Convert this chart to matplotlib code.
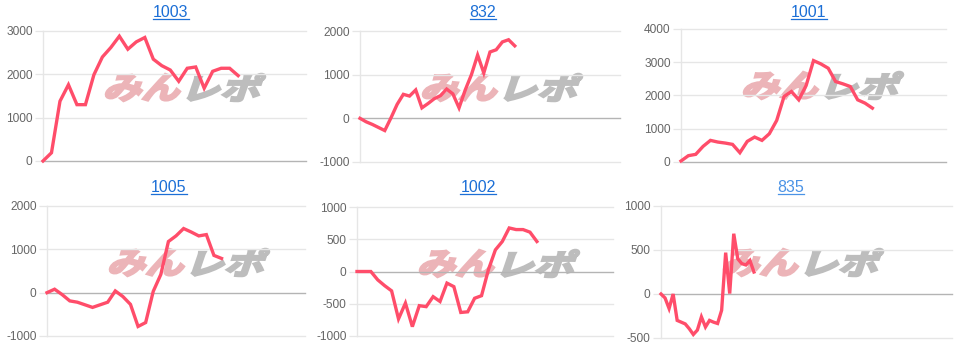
import matplotlib
matplotlib.use('Agg')
import matplotlib.pyplot as plt
from matplotlib.textpath import TextPath
from matplotlib.patches import PathPatch
from matplotlib.font_manager import FontProperties
from matplotlib.transforms import Affine2D, IdentityTransform
from matplotlib.lines import Line2D

# ---------------- data ----------------
titles = ['1003', '832', '1001', '1005', '1002', '835']

v1003 = [0, 190, 1380, 1760, 1300, 1300, 1990, 2400, 2620, 2880, 2580, 2750,
         2850, 2350, 2200, 2100, 1840, 2140, 2170, 1680, 2070, 2140, 2140, 1970]
v832 = [0, -80, -140, -210, -280, 10, 320, 550, 510, 650, 240, 340, 450, 520,
        670, 560, 240, 650, 1000, 1450, 1040, 1520, 1570, 1750, 1800, 1660]
v1001 = [30, 190, 230, 470, 650, 600, 570, 530, 280, 620, 750, 650, 850, 1250,
         1970, 2120, 1870, 2300, 3050, 2950, 2820, 2420, 2350, 2270, 1870, 1770, 1620]
v1005 = [0, 80, -45, -190, -220, -280, -340, -280, -220, 40, -90, -270, -780,
         -690, 30, 420, 1180, 1310, 1480, 1400, 1310, 1340, 860, 790]
v1002 = [0, 0, 0, -130, -220, -300, -735, -490, -855, -530, -545, -390, -465,
         -180, -235, -635, -625, -415, -375, 30, 335, 465, 675, 650, 650, 610, 465]
v835 = [0, -45, -165, 0, -300, -320, -340, -395, -460, -410, -260, -375, -300,
        -320, -335, -185, 470, 5, 685, 400, 345, 330, 380, 250]

series = [v1003, v832, v1001, v1005, v1002, v835]
x_span = [31, 42, 36, 34, 37, 72]
y_ticks = [[0, 1000, 2000, 3000],
           [-1000, 0, 1000, 2000],
           [0, 1000, 2000, 3000, 4000],
           [-1000, 0, 1000, 2000],
           [-1000, -500, 0, 500, 1000],
           [-500, 0, 500, 1000]]

# ---------------- layout (pixels, top-left origin) ----------------
W, H = 958, 347
boxes = [(43, 306, 31, 161), (360, 620, 31, 162), (681, 946, 29, 162),
         (47, 305, 206, 336), (357, 613, 207, 336), (661, 952, 206, 338)]
title_pos = [(171, 12.5), (483, 12.5), (809, 12.5),
             (169, 188), (478, 188), (791, 188)]
title_colors = ['#1c6fd6', '#1c6fd6', '#1c6fd6', '#1c6fd6', '#1c6fd6', '#4b93e6']

LINE = '#ff4d6a'
GRID = '#e6e6e6'
ZERO = '#b4b4b4'
LABEL = '#666666'

plt.rcParams['font.family'] = ['Liberation Sans', 'DejaVu Sans']

fig = plt.figure(figsize=(W / 100, H / 100), dpi=100)
fig.patch.set_facecolor('white')

wm_font = FontProperties(family='Noto Sans CJK JP', weight='bold')


def add_wordpath(text, x0, y0, w, h, color):
    tp = TextPath((0, 0), text, size=40, prop=wm_font)
    skew = Affine2D().skew_deg(14, 0)
    p = skew.transform_path(tp)
    ext = p.get_extents()
    tr = (Affine2D().translate(-ext.x0, -ext.y0)
          .scale(w / ext.width, h / ext.height)
          .translate(x0, H - y0 - h))
    p2 = tr.transform_path(p)
    patch = PathPatch(p2, transform=IdentityTransform(), facecolor=color,
                      edgecolor=color, linewidth=1.8, joinstyle='miter',
                      zorder=-1)
    fig.add_artist(patch)


for i in range(6):
    l, r, t, b = boxes[i]
    ax = fig.add_axes([l / W, 1 - b / H, (r - l) / W, (b - t) / H])
    ax.set_facecolor('none')
    yt = y_ticks[i]
    ax.set_xlim(0, x_span[i])
    ax.set_ylim(yt[0], yt[-1])
    ax.set_xticks([])
    ax.set_yticks(yt)
    ax.set_yticklabels([str(v) for v in yt])
    for s in ['top', 'right', 'bottom']:
        ax.spines[s].set_visible(False)
    ax.spines['left'].set_color(GRID)
    ax.spines['left'].set_linewidth(1)
    ax.tick_params(axis='y', length=6, width=0.9, color=GRID, labelcolor=LABEL,
                   labelsize=8.6, pad=1.5)
    for v in yt:
        ax.axhline(v, color=ZERO if v == 0 else GRID, lw=1.0, clip_on=False, zorder=1)
    vals = series[i]
    ax.plot(range(len(vals)), vals, color=LINE, lw=2.4, solid_joinstyle='miter',
            zorder=3, clip_on=False)

    # watermark
    wl, wt = l + 63, t + 43
    add_wordpath('みん', wl, wt, 74, 27, '#ecb4b8')
    add_wordpath('レポ', wl + 82, wt, 77, 27, '#bdbdbd')

    tx, ty = title_pos[i]
    fig.text(tx / W, 1 - ty / H, titles[i], ha='center', va='center',
             fontsize=11.5, color=title_colors[i])

fig.canvas.draw()
renderer = fig.canvas.get_renderer()
for txt in fig.texts:
    bb = txt.get_window_extent(renderer)
    y = bb.y0 + 1.5
    fig.add_artist(Line2D([bb.x0, bb.x1], [y, y], transform=IdentityTransform(),
                          color=txt.get_color(), lw=0.9))

fig.savefig('out.png', dpi=100, facecolor='white')
